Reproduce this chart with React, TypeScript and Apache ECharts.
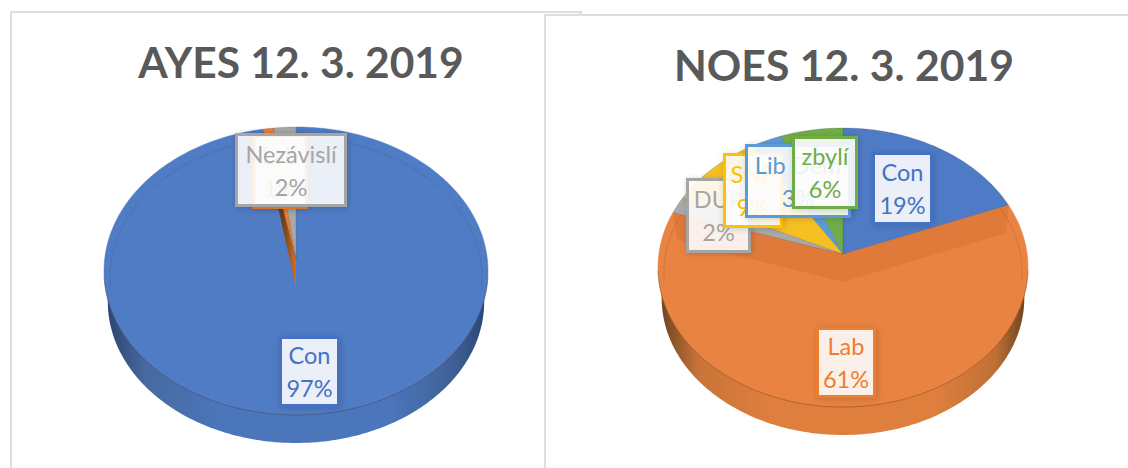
import React, { useEffect, useRef } from "react";
import * as echarts from "echarts";

// Data
const ayesCategories = ["Con", "Lab", "Nezávislí"];
const ayesValues = [97, 1, 2];
const noesCategories = ["Con", "Lab", "DUP", "SNP", "Lib Dem", "zbylí"];
const noesValues = [19, 61, 2, 9, 3, 6];
const ayesTitle = "AYES 12. 3. 2019";
const noesTitle = "NOES 12. 3. 2019";

// Styles
const ayesColors = ["#4472c4", "#ed7d31", "#a5a5a5"];
const noesColors = ["#4472c4", "#ed7d31", "#a5a5a5", "#ffc000", "#5b9bd5", "#70ad47"];
const ayesFaces = ["#507cc5", "#ed7d31", "#a8a8a8"];
const noesFaces = ["#4f7bc6", "#e98341", "#a9a9a9", "#f7c022", "#5b9bd5", "#70ad47"];

// Layout
const ayesLayout = {
  cx: 296, apexY: 259, top: 127, bottom: 415, halfWidth: 192, depth: 28, drop: 28, major: 0,
  band: "#6d3f17", bandStops: true,
  wall: ["#2c4674", "#47699f", "#4b76bb", "#4b76bb", "#3f6096", "#2b4674"],
  boxes: [[279, 336, 61, 71], [252, 134, 56, 75], [235, 133, 112, 74]],
};
const noesLayout = {
  cx: 843, apexY: 254, top: 128, bottom: 407, halfWidth: 185, depth: 28, drop: 28, major: 1,
  band: "#df7a3a", bandStops: false,
  wall: ["#6f4620", "#c87438", "#df7f3e", "#df7f3e", "#c07036", "#6f4620"],
  boxes: [[872, 152, 61, 73], [816, 327, 60, 71], [686, 178, 65, 75], [723, 153, 60, 75], [745, 144, 106, 74], [792, 136, 66, 73]],
};

const FONT = "Lato, 'Open Sans', sans-serif";
const WALL_SHRINK = 0.02;

function makeConic(l: any) {
  const T = l.apexY - l.top;
  const D = l.bottom - l.apexY;
  const k = (D - T) / (D + T);
  const B = T * (1 + k);
  const A = l.halfWidth * Math.sqrt(1 - k * k);
  return (theta: number, shrink = 0, dy = 0) => {
    const c = Math.cos(theta);
    const s = 1 / (1 + k * c);
    const f = 1 - shrink;
    return [l.cx + A * f * s * Math.sin(theta), l.apexY - B * f * s * c + dy];
  };
}

function arcPoints(p: any, a0: number, a1: number, shrink = 0, dy = 0) {
  const n = Math.max(2, Math.ceil(Math.abs(a1 - a0) / 0.02));
  const out: number[][] = [];
  for (let i = 0; i <= n; i++) out.push(p(a0 + ((a1 - a0) * i) / n, shrink, dy));
  return out;
}

function pieSeries(values: number[], names: string[], faces: string[], colors: string[], l: any) {
  const total = values.reduce((a, b) => a + b, 0);
  const P = makeConic(l);
  const angle = (v: number) => (v / total) * Math.PI * 2;
  const starts: number[] = [];
  values.reduce((acc, v, i) => { starts[i] = acc; return acc + v; }, 0);
  return {
    type: "custom",
    coordinateSystem: "none",
    silent: true,
    data: values.map((v) => [v]),
    renderItem: (params: any, api: any) => {
      const i = params.dataIndex;
      const v = api.value(0);
      const a0 = angle(starts[i]);
      const a1 = a0 + angle(v);
      const children: any[] = [];
      const apex = [l.cx, l.apexY];
      const isMajor = i === l.major;
      if (isMajor) {
        // side wall: a slightly smaller outline, lower down, behind the top face
        const wallDy = l.depth + (l.bottom - l.apexY) * WALL_SHRINK;
        const lower = arcPoints(P, Math.PI / 2, Math.PI * 1.5, WALL_SHRINK, wallDy);
        children.push({
          type: "polygon", z2: 1,
          shape: { points: [...lower, apex] },
          style: {
            fill: {
              type: "linear", x: 0, y: 0, x2: 1, y2: 0,
              colorStops: [
                { offset: 0, color: l.wall[0] }, { offset: 0.1, color: l.wall[1] }, { offset: 0.3, color: l.wall[2] },
                { offset: 0.75, color: l.wall[3] }, { offset: 0.92, color: l.wall[4] }, { offset: 1, color: l.wall[5] },
              ],
            },
          },
        });
      }
      children.push({
        type: "polygon", z2: isMajor ? 2 : 5,
        shape: { points: [apex, ...arcPoints(P, a0, a1)] },
        style: { fill: faces[i], stroke: isMajor ? faces[i] : "rgba(70,70,70,0.35)", lineWidth: isMajor ? 0.5 : 0.6 },
      });
      if (isMajor) {
        // inner wall of the raised slice, left open where the smaller slices sit
        const pa = P(a0);
        const pb = P(a1);
        const low = [l.cx, l.apexY + l.drop];
        children.push({
          type: "polygon", z2: 3,
          shape: { points: [apex, pa, [pa[0] - 2, pa[1] + l.drop], low, [pb[0] + 4, pb[1] + l.drop], pb] },
          style: l.bandStops
            ? {
                fill: {
                  type: "linear", x: 0, y: 0, x2: 1, y2: 0,
                  colorStops: [{ offset: 0, color: "#5f3512" }, { offset: 0.6, color: l.band }, { offset: 1, color: "#d86f22" }],
                },
              }
            : { fill: l.band },
        });
        // bevel lines
        children.push({
          type: "polyline", z2: 4,
          shape: { points: arcPoints(P, -Math.PI * 0.55, Math.PI * 0.55, 0.032, 6) },
          style: { fill: "none", stroke: "rgba(40,40,40,0.13)", lineWidth: 1 },
        });
        children.push({
          type: "polyline", z2: 4,
          shape: { points: arcPoints(P, Math.PI / 2 + 0.12, Math.PI * 1.5 - 0.12) },
          style: { fill: "none", stroke: "rgba(60,30,10,0.3)", lineWidth: 1 },
        });
      }
      // data label
      const b = l.boxes[i];
      const base = 20 + i * 3;
      children.push({
        type: "rect", z2: base,
        shape: { x: b[0] + 1.5, y: b[1] + 1.5, width: b[2] - 3, height: b[3] - 3 },
        style: {
          fill: "rgba(255,255,255,0.88)", stroke: colors[i], lineWidth: 3,
          shadowBlur: 6, shadowColor: "rgba(0,0,0,0.18)", shadowOffsetX: 1, shadowOffsetY: 1,
        },
      });
      children.push({
        type: "text", z2: base + 1,
        style: {
          x: b[0] + b[2] / 2, y: b[1] + b[3] / 2,
          text: `${names[i]}\n${v}%`,
          fill: colors[i], font: `23.5px ${FONT}`, lineHeight: 33,
          align: "center", verticalAlign: "middle",
        },
      });
      return { type: "group", children };
    },
  };
}

const frameColor = "#dedede";
const frame = [
  [10, 11, 571, 2], [10, 11, 2, 457], [580, 11, 2, 4],
  [544, 14, 584, 2], [544, 14, 2, 454],
];

export default function App() {
  const ref = useRef<HTMLDivElement>(null);
  useEffect(() => {
    const chart = echarts.init(ref.current!, null, { renderer: "svg" });
    chart.setOption({
      animation: false,
      backgroundColor: "#ffffff",
      title: [
        { text: ayesTitle, left: 296, top: 35, textAlign: "center", textStyle: { color: "#595959", fontFamily: FONT, fontWeight: "bold", fontSize: 42.5 } },
        { text: noesTitle, left: 839, top: 38, textAlign: "center", textStyle: { color: "#595959", fontFamily: FONT, fontWeight: "bold", fontSize: 42.7 } },
      ],
      graphic: frame.map((r) => ({ type: "rect", silent: true, shape: { x: r[0], y: r[1], width: r[2], height: r[3] }, style: { fill: frameColor } })),
      series: [
        pieSeries(ayesValues, ayesCategories, ayesFaces, ayesColors, ayesLayout),
        pieSeries(noesValues, noesCategories, noesFaces, noesColors, noesLayout),
      ],
    });
    return () => chart.dispose();
  }, []);
  return <div ref={ref} style={{ position: "absolute", left: 0, top: 0, width: 1128, height: 468 }} />;
}
